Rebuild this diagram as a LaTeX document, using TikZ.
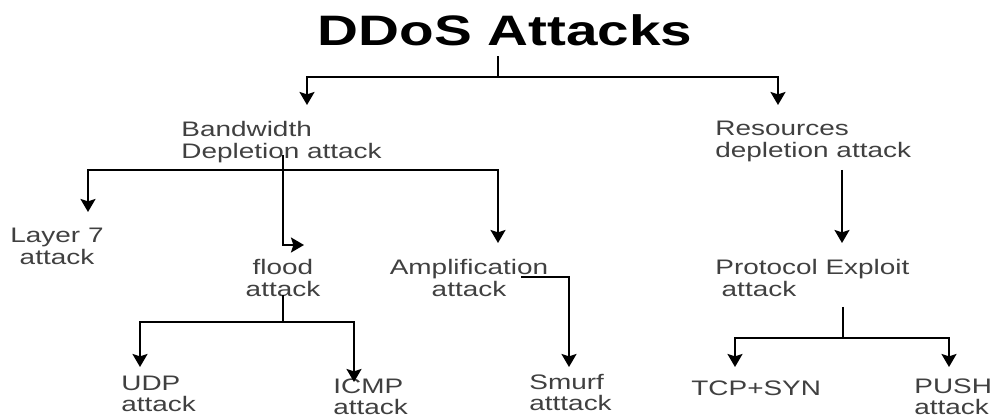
\documentclass[tikz,border=0pt]{standalone}
\usepackage{fontspec}
\setmainfont{Liberation Sans}[FakeStretch=1.33]
\usetikzlibrary{arrows.meta}
\tikzset{
    lbl/.style={inner sep=0pt, align=left, text=black!75, font=\fontsize{10.5}{11}\selectfont},
    low/.style={lbl, font=\fontsize{10.5}{10.5}\selectfont},
    link/.style={line width=1pt},
    arr/.style={link, -{Stealth[width=7.5pt,length=6.5pt,inset=1.2pt]}}
}
\begin{document}
\begin{tikzpicture}[x=0.5pt, y=-0.5pt]
        \useasboundingbox (0,0) rectangle (996,416);
        \node[inner sep=0pt, font=\bfseries\fontsize{21.3}{24}\selectfont] (title) at (505,30) {DDoS Attacks};
        \node[lbl, anchor=north west] (bw) at (181,121) {Bandwidth\\Depletion attack};
        \node[lbl, anchor=north west] (res) at (715,121) {Resources\\depletion attack};
        \node[lbl, align=center, anchor=north] (layer) at (57,228) {Layer 7\\attack};
        \node[lbl, align=center, anchor=north] (flood) at (283,259) {flood\\attack};
        \node[lbl, align=center, anchor=north] (amp) at (469,259) {Amplification\\attack};
        \node[lbl, anchor=north west] (proto) at (715,259) {Protocol Exploit\\\hspace*{0.3em}attack};
        \node[low, anchor=north west] (udp) at (121,376) {UDP\\attack};
        \node[low, anchor=north west] (icmp) at (333,378) {ICMP\\attack};
        \node[low, anchor=north west] (smurf) at (529,374) {Smurf\\atttack};
        \node[low, anchor=north west] (tcp) at (691,380) {TCP+SYN};
        \node[low, anchor=north west] (push) at (914,378) {PUSH\\attack};

        \coordinate (tj) at (498,77);
        \coordinate (bwtip) at (307,105);
        \coordinate (restip) at (778,105);
        \draw[link] ([yshift=-5pt]title.south -| tj) -- (tj);
        \draw[arr] (tj) -| (bwtip);
        \draw[arr] (tj) -| (restip);

        \coordinate (bwout) at (283,155);
        \coordinate (bj) at (283,170);
        \coordinate (layertip) at (88,212);
        \coordinate (amptip) at (498,243);
        \coordinate (floodtip) at (304,245);
        \draw[arr] (bj) -| (layertip);
        \draw[arr] (bj) -| (amptip);
        \draw[arr] (bwout) |- (floodtip);

        \coordinate (floodout) at (283,295);
        \coordinate (fj) at (283,322);
        \coordinate (udptip) at (140,367);
        \coordinate (icmptip) at (354,382);
        \draw[link] (floodout) -- (fj);
        \draw[arr] (fj) -| (udptip);
        \draw[arr] (fj) -| (icmptip);

        \coordinate (ampout) at (521,277);
        \coordinate (smurftip) at (569,367);
        \draw[arr] (ampout) -| (smurftip);

        \coordinate (resout) at (842,170);
        \coordinate (prototip) at (842,243);
        \draw[arr] (resout) -- (prototip);

        \coordinate (protoout) at (843,307);
        \coordinate (pj) at (843,338);
        \coordinate (tcptip) at (735,367);
        \coordinate (pushtip) at (949,367);
        \draw[link] (protoout) -- (pj);
        \draw[arr] (pj) -| (tcptip);
        \draw[arr] (pj) -| (pushtip);
\end{tikzpicture}
\end{document}
